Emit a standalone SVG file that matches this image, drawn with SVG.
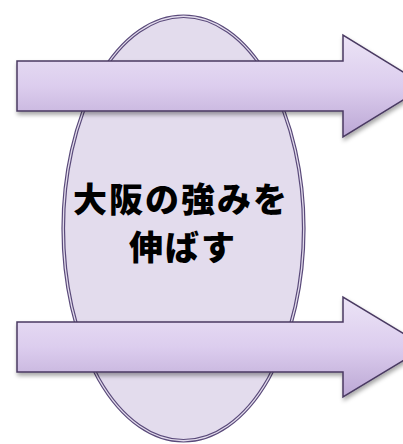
<svg xmlns="http://www.w3.org/2000/svg" width="403" height="444" viewBox="0 0 403 444">
<defs>
<style>
.arrow{fill:url(#ag);stroke:#4a3a62;stroke-width:1.5;stroke-linejoin:miter;filter:url(#sh)}
.lbl{font-family:"Noto Sans CJK JP","Noto Sans CJK SC",sans-serif;font-weight:900;font-size:34px;fill:#000;text-anchor:middle;dominant-baseline:central;letter-spacing:2px}
</style>
<linearGradient id="ag" x1="0" y1="0" x2="0" y2="1">
<stop offset="0" stop-color="#ece4f6"/>
<stop offset="0.5" stop-color="#dccdee"/>
<stop offset="1" stop-color="#bba7d4"/>
</linearGradient>
<filter id="sh" x="-10%" y="-20%" width="130%" height="150%">
<feDropShadow dx="1" dy="3" stdDeviation="2" flood-color="#000" flood-opacity="0.35"/>
</filter>
</defs>
<g id="ellipse-node">
<ellipse cx="183.5" cy="228.5" rx="121.5" ry="213.5" fill="#e3dced" stroke="#5a4a7a" stroke-width="1.2"/>
<ellipse cx="183.5" cy="228.5" rx="119" ry="211" fill="none" stroke="#5a4a7a" stroke-width="1.2"/>
</g>
<g id="connectors">
<path class="arrow" d="M17,61 H343 V35 L426,86 L343,137 V111 H17 Z"/>
<path class="arrow" d="M17,322 H343 V297 L426,347 L343,397 V372 H17 Z"/>
</g>
<g id="label">
<text class="lbl" x="181" y="197">大阪の強みを</text>
<text class="lbl" x="183" y="245">伸ばす</text>
</g>
</svg>
